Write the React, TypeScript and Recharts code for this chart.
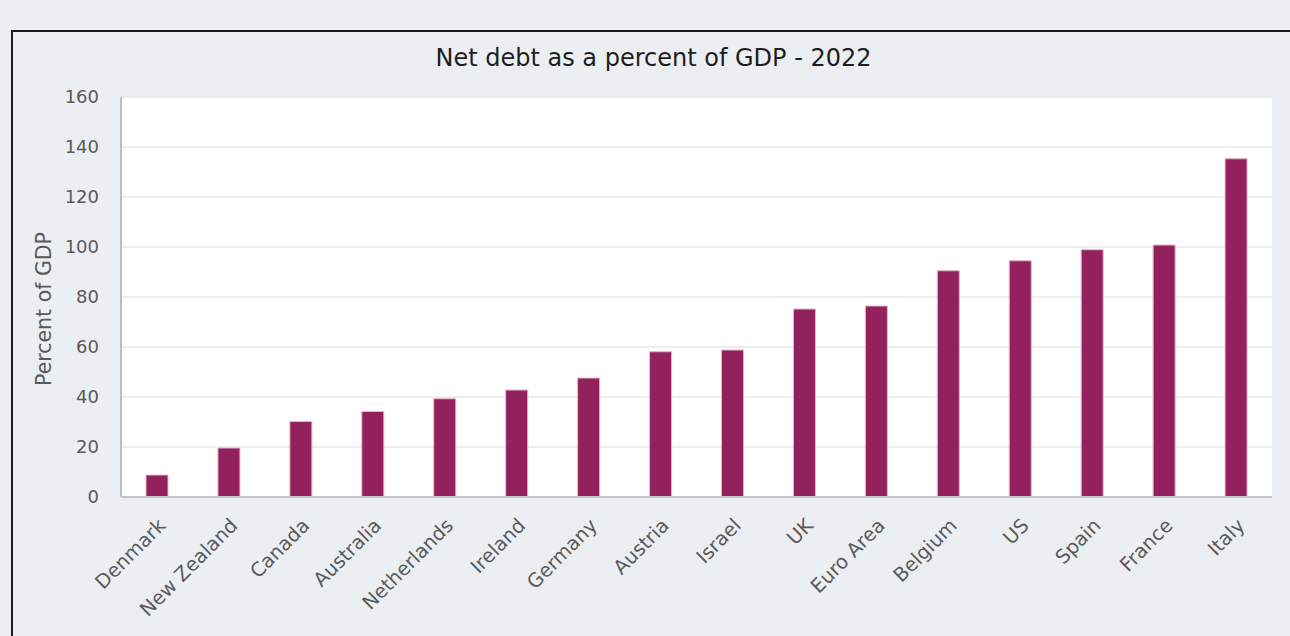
import { BarChart, Bar, XAxis, YAxis, CartesianGrid } from 'recharts';

const countries = [
  'Denmark', 'New Zealand', 'Canada', 'Australia', 'Netherlands', 'Ireland', 'Germany', 'Austria',
  'Israel', 'UK', 'Euro Area', 'Belgium', 'US', 'Spain', 'France', 'Italy',
];
const netDebt = [8.8, 19.6, 30.2, 34.2, 39.3, 42.8, 47.6, 58.1, 58.8, 75.2, 76.4, 90.5, 94.5, 98.9, 100.8, 135.3];
const yTicks = [0, 20, 40, 60, 80, 100, 120, 140, 160];

const data = countries.map((country, i) => ({ country, value: netDebt[i] }));

const FONT = '"DejaVu Sans", "Noto Sans", sans-serif';
const yTickStyle = { fill: '#5a5a5a', fontSize: 18, fontFamily: FONT };
const xTickStyle = { fill: '#5a5a5a', fontSize: 19.5, fontFamily: FONT };

export default function App() {
  return (
    <div style={{ position: 'absolute', left: 0, top: 0, width: 1290, height: 636, background: '#eceff2', overflow: 'hidden' }}>
      <div
        style={{
          position: 'absolute', left: 11, top: 30, width: 1300, height: 620,
          borderTop: '2px solid #1a1a1a', borderLeft: '2px solid #1a1a1a',
        }}
      />
      <div
        style={{
          position: 'absolute', left: 0, top: 44, width: 1307, textAlign: 'center',
          fontFamily: FONT, fontSize: 24, color: '#1e1e1e',
        }}
      >
        Net debt as a percent of GDP - 2022
      </div>
      <div style={{ position: 'absolute', left: 0, top: 0 }}>
        <BarChart width={1290} height={636} data={data} margin={{ top: 97, right: 18, bottom: 0, left: 0 }}>
          <CartesianGrid vertical={false} stroke="#dcdcdc" fill="#ffffff" />
          <XAxis
            dataKey="country"
            interval={0}
            angle={-45}
            textAnchor="end"
            height={139}
            tickLine={false}
            tickMargin={14}
            axisLine={{ stroke: '#c4c4c4', strokeWidth: 2 }}
            tick={xTickStyle}
          />
          <XAxis xAxisId="top" orientation="top" dataKey="country" height={0} tick={false} tickLine={false} axisLine={{ stroke: '#bdbdbd', strokeWidth: 2 }} />
          <YAxis
            domain={[0, 160]}
            ticks={yTicks}
            width={121}
            tickLine={false}
            tickMargin={16}
            axisLine={{ stroke: '#bdbdbd', strokeWidth: 2 }}
            tick={yTickStyle}
            label={{ value: 'Percent of GDP', angle: -90, position: 'insideLeft', offset: 44, dy: 12, style: { fill: '#5a5a5a', fontSize: 20.5, fontFamily: FONT, textAnchor: 'middle' } }}
          />
          <YAxis yAxisId="right" orientation="right" width={0} tick={false} tickLine={false} axisLine={{ stroke: '#bdbdbd', strokeWidth: 2 }} />
          <Bar dataKey="value" fill="#93215e" stroke="#e3b5cc" strokeWidth={1} barSize={22} isAnimationActive={false} />
        </BarChart>
      </div>
    </div>
  );
}
